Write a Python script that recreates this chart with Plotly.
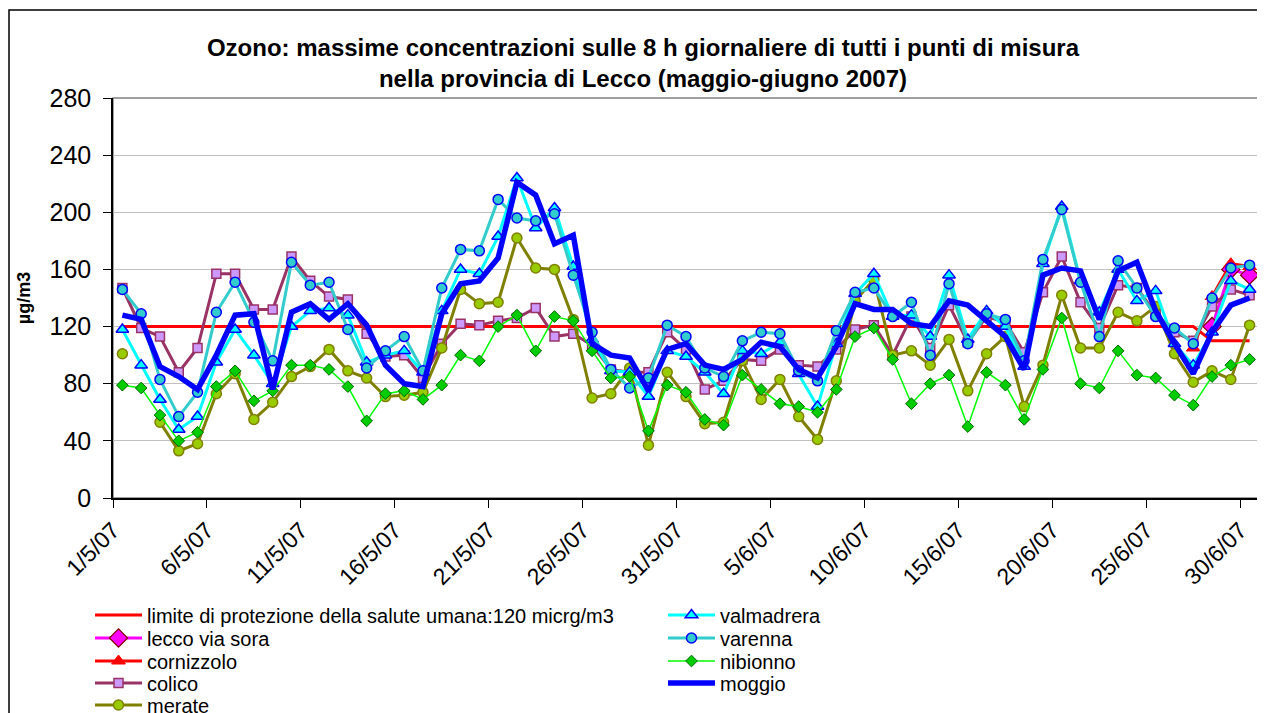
import pandas as pd
import plotly.graph_objects as go

# ---------------- data ----------------
dates = pd.date_range("2007-05-01", "2007-06-30", freq="D")

tick_dates = ["2007-05-01", "2007-05-06", "2007-05-11", "2007-05-16", "2007-05-21",
              "2007-05-26", "2007-05-31", "2007-06-05", "2007-06-10", "2007-06-15",
              "2007-06-20", "2007-06-25", "2007-06-30"]
tick_labels = ["1/5/07", "6/5/07", "11/5/07", "16/5/07", "21/5/07", "26/5/07", "31/5/07",
               "5/6/07", "10/6/07", "15/6/07", "20/6/07", "25/6/07", "30/6/07"]

limite = [120, 120, 120, 120, 120, 120, 120, 120, 120, 120,
          120, 120, 120, 120, 120, 120, 120, 120, 120, 120,
          120, 120, 120, 120, 120, 120, 120, 120, 120, 120,
          120, 120, 120, 120, 120, 120, 120, 120, 120, 120,
          120, 120, 120, 120, 120, 120, 120, 120, 120, 120,
          120, 120, 120, 120, 120, 120, 120, 120, 110, 110,
          110]

lecco = [None] * 58 + [120, 160, 156]
cornizzolo = [None] * 57 + [105, 141, 164, 162]

colico = [147, 119, 113, 88, 105, 157, 157, 132, 132, 169,
          152, 141, 139, 115, 99, 100, 84, 108, 122, 121,
          124, 126, 133, 113, 115, 107, 90, 88, 88, 116,
          104, 76, 82, 97, 96, 104, 93, 92, 104, 118,
          121, 100, 127, 105, 135, 109, 127, 123, 102, 144,
          169, 137, 119, 149, 147, 129, 116, 110, 134, 146,
          142]

merate = [101, None, 53, 33, 38, 73, 87, 55, 67, 85,
          92, 104, 89, 84, 71, 72, 74, 105, 146, 136,
          137, 182, 161, 160, 125, 70, 73, 91, 37, 88,
          71, 52, 53, 96, 69, 83, 57, 41, 82, 138,
          153, 100, 103, 93, 111, 75, 101, 113, 64, 93,
          142, 105, 105, 130, 124, 134, 101, 81, 89, 83,
          121]

valmadrera = [118, 93, 69, 48, 57, 95, 118, 100, 80, 120,
              131, 133, 128, 95, 100, 103, 88, 131, 160, 157,
              183, 224, 189, 203, 162, 111, 89, 88, 71, 103,
              99, 88, 73, 103, 101, 109, 87, 64, 108, 143,
              157, 127, 128, 113, 156, 111, 131, 120, 92, 164,
              204, 152, 130, 160, 138, 145, 108, 93, 116, 152,
              146]

varenna = [146, 129, 83, 57, 74, 130, 151, 123, 96, 165,
           149, 151, 118, 91, 103, 113, 89, 147, 174, 173,
           209, 196, 194, 199, 156, 116, 90, 77, 84, 121,
           113, 91, 85, 110, 116, 115, 89, 82, 117, 144,
           147, 127, 137, 100, 150, 108, 129, 125, 96, 167,
           202, 151, 113, 166, 147, 127, 119, 108, 140, 161,
           163]

nibionno = [79, 77, 58, 40, 46, 78, 89, 68, 75, 93,
            93, 90, 78, 54, 73, 75, 69, 79, 100, 96,
            120, 128, 103, 127, 124, 103, 84, 85, 47, 79,
            74, 55, 51, 86, 76, 66, 64, 60, 76, 113,
            119, 97, 66, 80, 86, 50, 88, 79, 55, 90,
            126, 80, 77, 103, 86, 84, 72, 65, 85, 93,
            97]

moggio = [128, 125, 92, 85, 76, 100, 128, 129, 76, 130,
          136, 125, 136, 121, 93, 80, 78, 129, 150, 152,
          168, 221, 212, 178, 184, 108, 100, 98, 75, 104,
          108, 93, 90, 97, 109, 106, 90, 84, 106, 136,
          132, 132, 122, 120, 138, 135, 124, 113, 90, 156,
          161, 159, 125, 159, 165, 131, 108, 87, 116, 135,
          140]

# ---------------- figure ----------------
FONT = "Liberation Sans, Arial, sans-serif"
DAY_MS = 86400000
OFF = 8                      # page body margin
FW, FH = 1265 - OFF, 713 - OFF

fig = go.Figure()

def add(name, y, legend, line, marker=None, mode="lines+markers"):
    kw = dict(x=dates, y=y, name=name, legend=legend, mode=mode, line=line,
              xperiod=DAY_MS, xperiodalignment="middle", connectgaps=False)
    if marker is not None:
        kw["marker"] = marker
    fig.add_trace(go.Scatter(**kw))

add("limite di protezione della salute umana:120 micrg/m3", limite, "legend",
    dict(color="#FF0000", width=3), mode="lines")
add("lecco via sora", lecco, "legend2", dict(color="#FF00FF", width=3),
    dict(symbol="diamond", size=14, color="#FF00FF", line=dict(color="#800000", width=1.2)))
add("cornizzolo", cornizzolo, "legend3", dict(color="#FF0000", width=3),
    dict(symbol="triangle-up", size=12, color="#FF0000", line=dict(color="#FF0000", width=1)))
add("colico", colico, "legend4", dict(color="#993366", width=3),
    dict(symbol="square", size=9, color="#CC99FF", line=dict(color="#993366", width=1.5)))
add("merate", merate, "legend5", dict(color="#808000", width=3),
    dict(symbol="circle", size=10, color="#99CC00", line=dict(color="#808000", width=1.5)))
add("valmadrera", valmadrera, "legend6", dict(color="#00FFFF", width=3),
    dict(symbol="triangle-up", size=11, color="#00FFFF", line=dict(color="#0000FF", width=1.5)))
add("varenna", varenna, "legend7", dict(color="#33CCCC", width=3),
    dict(symbol="circle", size=10, color="#33CCCC", line=dict(color="#0000FF", width=1.5)))
add("nibionno", nibionno, "legend8", dict(color="#00FF00", width=1.5),
    dict(symbol="diamond", size=9, color="#00CC00", line=dict(color="#006600", width=1)))
add("moggio", moggio, "legend9", dict(color="#0000FF", width=5.5), mode="lines")

# plot area in screen pixels: x 113..1259, y 98..498
L = 113 - OFF
R = FW - (1259 - OFF)
T = 98 - OFF
B = FH - (498 - OFF)
W = FW - L - R
H = FH - T - B

def px_x(px):
    return (px - OFF - L) / W

def px_y(py):
    return (FH - B - (py - OFF)) / H

col1_x = px_x(90)
col2_x = px_x(663)
rows = [615, 638, 661, 683, 705]
legend_pos = {
    "legend": (col1_x, rows[0]), "legend2": (col1_x, rows[1]), "legend3": (col1_x, rows[2]),
    "legend4": (col1_x, rows[3]), "legend5": (col1_x, rows[4]),
    "legend6": (col2_x, rows[0]), "legend7": (col2_x, rows[1]), "legend8": (col2_x, rows[2]),
    "legend9": (col2_x, rows[3]),
}
legend_layout = {}
for key, (lx, ly) in legend_pos.items():
    legend_layout[key] = dict(x=lx, y=px_y(ly), xanchor="left", yanchor="middle",
                              bgcolor="rgba(0,0,0,0)", borderwidth=0,
                              font=dict(family=FONT, size=20, color="black"),
                              itemwidth=47)

fig.update_layout(
    width=FW, height=FH,
    margin=dict(l=L, r=R, t=T, b=B, autoexpand=False),
    paper_bgcolor="white", plot_bgcolor="white",
    font=dict(family=FONT, color="black"),
    title=dict(text="<b>Ozono: massime concentrazioni sulle 8 h giornaliere di tutti i punti di misura"
                    "<br>nella provincia di Lecco (maggio-giugno 2007)</b>",
               x=(643 - OFF) / FW, xanchor="center", y=1 - 48 / FH, yanchor="top",
               font=dict(family=FONT, size=24, color="black")),
    showlegend=True,
    **legend_layout,
)

fig.update_xaxes(
    type="date", range=["2007-05-01", "2007-07-01"],
    tickmode="array", tickvals=tick_dates, ticktext=tick_labels,
    tickangle=-45, tickfont=dict(family=FONT, size=23, color="black"),
    ticks="outside", ticklen=8, tickcolor="black", tickwidth=1.2,
    showgrid=False, showline=True, linecolor="black", linewidth=1.5,
    zeroline=False, automargin=False,
)
fig.update_yaxes(
    range=[0, 280], tickmode="linear", tick0=0, dtick=40,
    tickfont=dict(family=FONT, size=25, color="black"),
    ticks="outside", ticklen=8, tickcolor="black", tickwidth=1.2, ticklabelstandoff=7,
    showgrid=True, gridcolor="#C0C0C0", gridwidth=1.2,
    showline=True, linecolor="black", linewidth=1.5, zeroline=False,
    title=dict(text="<b>µg/m3</b>", font=dict(family=FONT, size=18, color="black"), standoff=14),
    automargin=False,
)

# plot-area frame (grey, top/right) and outer chart border (black)
fig.add_shape(type="rect", xref="paper", yref="paper", x0=0, y0=0, x1=1, y1=1,
              line=dict(color="#808080", width=1.5), layer="below")
fig.add_shape(type="rect", xref="paper", yref="paper",
              x0=px_x(9), y0=px_y(740), x1=px_x(1290), y1=px_y(10),
              line=dict(color="black", width=1.5), layer="below")

fig.write_html("out.html")
